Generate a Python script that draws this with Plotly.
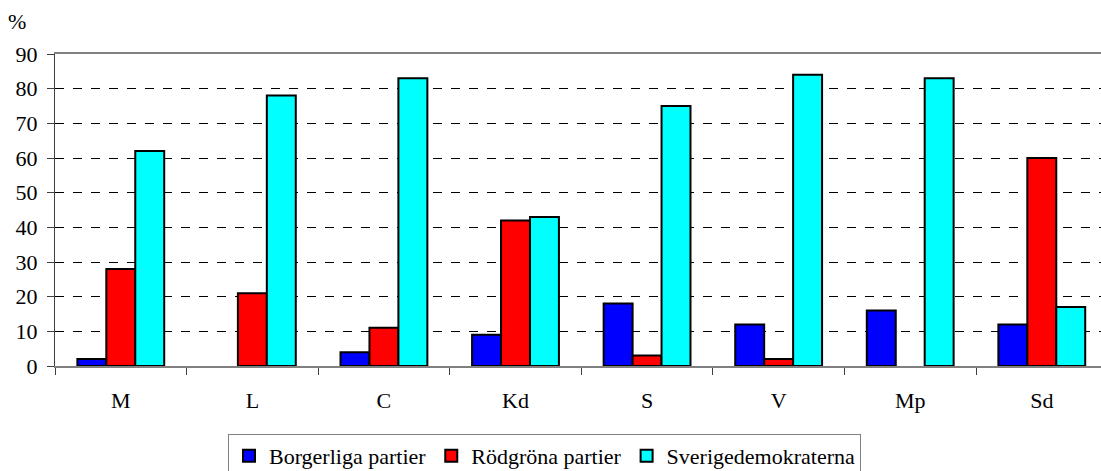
import plotly.graph_objects as go

categories = ["M", "L", "C", "Kd", "S", "V", "Mp", "Sd"]
borgerliga = [2, 0, 4, 9, 18, 12, 16, 12]
rodgrona = [28, 21, 11, 42, 3, 2, 0, 60]
sd = [62, 78, 83, 43, 75, 84, 83, 17]
series_names = ["Borgerliga partier", "Rödgröna partier", "Sverigedemokraterna"]
colors = ["#0000FF", "#FF0000", "#00FFFF"]
y_ticks = [0, 10, 20, 30, 40, 50, 60, 70, 80, 90]

FONT = "Liberation Serif, Times New Roman, serif"
FS = 22

fig = go.Figure()
for name, vals, c in zip(series_names, [borgerliga, rodgrona, sd], colors):
    fig.add_trace(go.Bar(
        x=categories, y=vals, name=name,
        marker=dict(color=c, line=dict(color="black",
                                       width=[2 if v > 0 else 0 for v in vals])),
    ))

W, H = 1101, 471
L, R, T, B = 55, 0, 54, 105
pw, ph = W - L - R, H - T - B

fig.update_layout(
    width=W, height=H,
    margin=dict(l=L, r=R, t=T, b=B, autoexpand=False),
    paper_bgcolor="white", plot_bgcolor="white",
    barmode="group", bargap=0.34, bargroupgap=0,
    font=dict(family=FONT, size=FS, color="black"),
    showlegend=True,
    legend=dict(
        orientation="h", x=(228 - L) / pw, xanchor="left",
        y=-(434 - (T + ph)) / ph, yanchor="top",
        bordercolor="#808080", borderwidth=1,
        font=dict(family=FONT, size=FS, color="black"),
        itemwidth=30, tracegroupgap=0,
    ),
    xaxis=dict(
        type="category", range=[-0.5, 7.45], automargin=False,
        showline=True, linecolor="#808080", linewidth=2, mirror=True,
        ticks="outside", ticklen=7, tickcolor="#404040", tickwidth=1,
        tickson="boundaries", showgrid=False,
        ticklabelstandoff=14,
    ),
    yaxis=dict(
        range=[0, 90], tickvals=y_ticks, automargin=False,
        showline=True, linecolor="#404040", linewidth=1,
        ticks="outside", ticklen=7, tickcolor="#404040",
        showgrid=True, gridcolor="black", griddash="dash", gridwidth=1,
        zeroline=False, ticklabelstandoff=5,
    ),
    annotations=[dict(text="%", x=(6 - L) / pw, y=1 + (T - 22) / ph,
                      xref="paper", yref="paper", showarrow=False,
                      xanchor="left", yanchor="middle",
                      font=dict(family=FONT, size=FS))],
)
fig.write_html("out.html", config={"displayModeBar": False},
               post_script="document.body.style.margin='0';document.body.style.padding='0';")
